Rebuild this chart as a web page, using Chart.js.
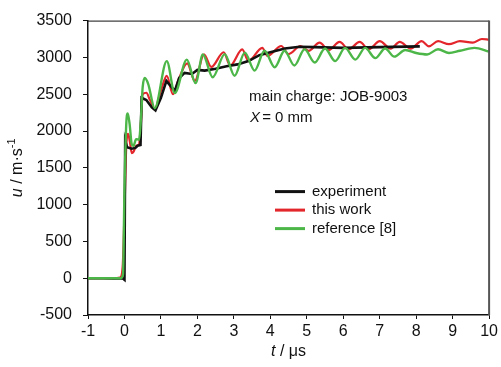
<!DOCTYPE html>
<html><head><meta charset="utf-8">
<script src="https://cdn.jsdelivr.net/npm/chart.js@4.4.1/dist/chart.umd.min.js"></script>
<style>html,body{margin:0;padding:0;background:#fff;}#wrap{width:501px;height:367px;}</style>
</head><body><div id="wrap"><canvas id="c" width="501" height="367"></canvas></div>
<script>
// ---- data ----
const xTicks = [-1,0,1,2,3,4,5,6,7,8,9,10];
const yTicks = [-500,0,500,1000,1500,2000,2500,3000,3500];
const seriesNames = ['experiment','this work','reference [8]'];

const expT = [-1,-0.6,-0.3,-0.05,0.0,0.02,0.07,0.2,0.3,0.36,0.44,0.47,0.6,0.75,0.85,1.0,1.15,1.2,1.38,1.5,1.65,1.85,2.0,2.2,2.5,2.8,3.1,3.4,3.7,4.0,4.4,4.8,5.2,6.0,7.0,8.1];
const expU = [0,0,-5,0,-20,1870,1780,1760,1770,1800,1810,2450,2420,2320,2280,2450,2680,2650,2545,2720,2790,2775,2830,2820,2845,2880,2905,2950,3030,3070,3120,3145,3140,3130,3140,3150];

const redT = [-1,-0.3,-0.12,-0.05,0.0,0.05,0.1,0.15,0.2,0.25,0.32,0.4,0.45,0.5,0.6,0.7,0.83,1.0,1.16,1.33,1.5,1.72,1.93,2.18,2.38,2.72,2.9,3.23,3.4,3.78,3.92,4.3,4.5,4.83,5.05,5.35,5.6,5.9,6.15,6.45,6.7,7.0,7.3,7.55,7.85,8.15,8.35,8.6,8.9,9.2,9.55,9.8,10];
const redU = [0,0,10,150,900,1800,1960,1850,1700,1720,1800,1820,2100,2500,2520,2420,2300,2550,2750,2500,2720,2920,2680,3040,2870,3070,2890,3110,2950,3130,3020,3155,3045,3155,3090,3200,3100,3210,3110,3210,3110,3220,3120,3210,3120,3220,3150,3220,3180,3220,3200,3250,3240];

const greenT = [-1,-0.1,-0.04,0.0,0.05,0.09,0.14,0.2,0.25,0.32,0.4,0.45,0.5,0.56,0.65,0.83,1.16,1.38,1.71,1.95,2.15,2.42,2.75,3.02,3.3,3.57,3.84,4.12,4.39,4.66,4.94,5.22,5.5,5.78,6.05,6.33,6.6,6.88,7.15,7.4,7.7,8.0,8.3,8.6,8.9,9.2,9.6,10];
const greenU = [0,0,50,1200,2100,2240,2100,1820,1800,1890,1880,2150,2600,2720,2640,2310,2950,2515,2970,2650,3040,2730,3045,2750,3065,2820,3090,2865,3090,2890,3110,2930,3120,2950,3130,2970,3130,2990,3120,3010,3100,3060,3040,3110,3060,3090,3130,3080];

const colors = ['#111111','#e3262b','#4cb748'];

const pts = (t,u) => t.map((v,i)=>({x:v,y:u[i]}));

const FONT = '"Liberation Sans", Arial, sans-serif';

function drawSegs(ctx, segs, x, y, align){
  let total = 0;
  segs.forEach(s=>{ctx.font=s.font; s.w=ctx.measureText(s.text).width; total+=s.w+(s.gap||0);});
  let cx = align==='center' ? x-total/2 : x;
  ctx.textBaseline='middle'; ctx.textAlign='left';
  segs.forEach(s=>{ctx.font=s.font; cx+=(s.gap||0); ctx.fillText(s.text,cx,y+(s.dy||0)); cx+=s.w;});
}

const overlay = {
  id:'overlay',
  afterDraw(chart){
    const {ctx, chartArea:a} = chart;
    ctx.save();
    // frame
    ctx.strokeStyle='#111'; ctx.lineWidth=1;
    ctx.beginPath(); ctx.moveTo(a.left,a.top+0.5); ctx.lineTo(a.right,a.top+0.5); ctx.stroke();
    ctx.strokeStyle='#555'; ctx.lineWidth=2;
    ctx.beginPath(); ctx.moveTo(a.right,a.top); ctx.lineTo(a.right,a.bottom); ctx.stroke();
    ctx.fillStyle='#111';
    // legend
    const lx = a.left+187, ly = a.top+171;
    chart.data.datasets.forEach((d,i)=>{
      const yy = ly + i*18.5;
      ctx.strokeStyle=d.borderColor; ctx.lineWidth=3;
      ctx.beginPath(); ctx.moveTo(lx,yy); ctx.lineTo(lx+30,yy); ctx.stroke();
      ctx.font='15px '+FONT; ctx.textBaseline='middle'; ctx.textAlign='left';
      ctx.fillText(d.label, lx+37, yy);
    });
    // annotation
    ctx.font='15px '+FONT; ctx.textBaseline='middle'; ctx.textAlign='left';
    ctx.fillText('main charge: JOB-9003', a.left+161, a.top+76);
    drawSegs(ctx,[{text:'X',font:'italic 15px '+FONT},{text:' = 0 mm',font:'15px '+FONT,gap:-2}], a.left+162, a.top+97,'left');
    // axis titles
    drawSegs(ctx,[{text:'t',font:'italic 16px '+FONT},{text:' / μs',font:'16px '+FONT}], (a.left+a.right)/2, 352,'center');
    ctx.save();
    ctx.translate(18,(a.top+a.bottom)/2); ctx.rotate(-Math.PI/2);
    drawSegs(ctx,[{text:'u',font:'italic 16px '+FONT},{text:' / m·s',font:'16px '+FONT},{text:'-1',font:'11px '+FONT,dy:-6}],0,0,'center');
    ctx.restore();
    ctx.restore();
  }
};

new Chart(document.getElementById('c'),{
  type:'scatter',
  data:{datasets:[
    {label:seriesNames[0],data:pts(expT,expU),borderColor:colors[0],backgroundColor:colors[0],showLine:true,pointRadius:0,borderWidth:2.6,tension:0,order:2},
    {label:seriesNames[1],data:pts(redT,redU),borderColor:colors[1],backgroundColor:colors[1],showLine:true,pointRadius:0,borderWidth:2.2,cubicInterpolationMode:'monotone',order:3},
    {label:seriesNames[2],data:pts(greenT,greenU),borderColor:colors[2],backgroundColor:colors[2],showLine:true,pointRadius:0,borderWidth:2.4,cubicInterpolationMode:'monotone',order:1}
  ]},
  options:{
    responsive:false, animation:false, devicePixelRatio:1,
    layout:{padding:{top:19,right:11,left:0,bottom:0}},
    plugins:{legend:{display:false},tooltip:{enabled:false}},
    scales:{
      x:{type:'linear',min:-1,max:10,
        afterBuildTicks:s=>{s.ticks=xTicks.map(v=>({value:v}));},
        afterFit:s=>{s.height=52;},
        ticks:{color:'#111',font:{family:FONT,size:16},padding:3,maxRotation:0,autoSkip:false,callback:v=>String(v)},
        grid:{drawOnChartArea:false,drawTicks:true,tickLength:4,color:'#111',lineWidth:1},
        border:{display:true,color:'#111',width:1.5}},
      y:{type:'linear',min:-500,max:3500,
        afterBuildTicks:s=>{s.ticks=yTicks.map(v=>({value:v}));},
        afterFit:s=>{s.width=88;},
        ticks:{color:'#111',font:{family:FONT,size:16},padding:11,autoSkip:false,callback:v=>String(v)},
        grid:{drawOnChartArea:false,drawTicks:true,tickLength:5,color:'#111',lineWidth:1},
        border:{display:true,color:'#111',width:1.5}}
    }
  },
  plugins:[overlay]
});
</script></body></html>
